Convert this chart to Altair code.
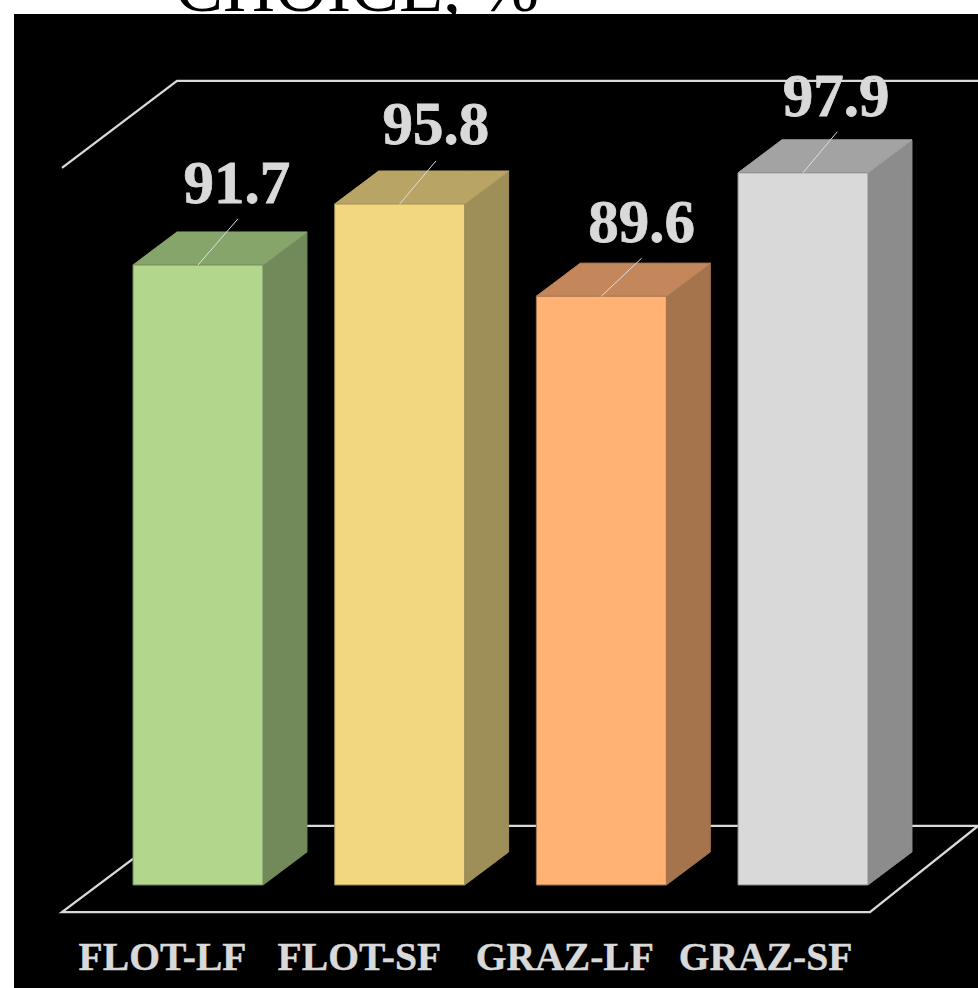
import altair as alt
import pandas as pd

# Survival share per regimen
regimens = ["FLOT-LF", "FLOT-SF", "GRAZ-LF", "GRAZ-SF"]
shares = [91.7, 95.8, 89.6, 97.9]

# Face colours of each box
front_colors = ["#b3d68d", "#f2d680", "#ffb273", "#d9d9d9"]
top_colors = ["#86a56b", "#b8a464", "#c3875b", "#a3a3a3"]
side_colors = ["#728a59", "#9e8e58", "#a5744d", "#8c8c8c"]

# Value label and leader placement relative to the top front edge of each box
label_shift = [0.193, 0.180, 0.200, 0.164]
label_rise = [4.18, 4.04, 3.64, 3.84]
leader_shift = [0.198, 0.180, 0.200, 0.170]
leader_rise = [3.10, 2.90, 2.56, 2.76]

# Horizontal nudge of each regimen name from its box centre, in axis units
name_shift = [-0.176, -0.200, -0.181, -0.186]

# Box and perspective geometry, in axis units
HALF_WIDTH = 0.3223
DEPTH_X = 0.218
DEPTH_Y = 2.22
BASE = 50
X_DOMAIN = [-0.9124, 3.8677]
Y_DOMAIN = [43.07, 108.58]

# Outline of the floor and of the ceiling of the perspective frame
floor_x = [-0.1041, -0.6744, 3.332, 3.8677, -0.1041]
floor_y = [53.97, 48.18, 48.18, 53.97, 53.97]
ceiling_x = [-0.6744, -0.1041, 3.8677]
ceiling_y = [98.23, 104.08, 104.08]

x_scale = alt.Scale(domain=X_DOMAIN, nice=False, zero=False)
y_scale = alt.Scale(domain=Y_DOMAIN, nice=False, zero=False)
X = alt.X("x:Q", scale=x_scale, axis=None)
Y = alt.Y("y:Q", scale=y_scale, axis=None)


def palette_scale(palette):
    return alt.Scale(domain=regimens, range=palette)


front_rows, side_rows, top_rows, leader_rows, label_rows, name_rows = [], [], [], [], [], []
for i, (name, v) in enumerate(zip(regimens, shares)):
    left, right = i - HALF_WIDTH, i + HALF_WIDTH
    front_rows.append({"regimen": name, "x": left, "x2": right, "y": v, "y2": BASE})
    side_rows += [
        {"regimen": name, "x": right, "y": v, "y2": BASE},
        {"regimen": name, "x": right + DEPTH_X, "y": v + DEPTH_Y, "y2": BASE + DEPTH_Y},
    ]
    top_rows += [
        {"regimen": name, "x": left, "y": v, "y2": v},
        {"regimen": name, "x": left + DEPTH_X, "y": v, "y2": v + DEPTH_Y},
        {"regimen": name, "x": right, "y": v, "y2": v + DEPTH_Y},
        {"regimen": name, "x": right + DEPTH_X, "y": v + DEPTH_Y, "y2": v + DEPTH_Y},
    ]
    leader_rows += [
        {"regimen": name, "x": i, "y": v, "step": 0},
        {"regimen": name, "x": i + leader_shift[i], "y": v + leader_rise[i], "step": 1},
    ]
    label_rows.append({"regimen": name, "x": i + label_shift[i], "y": v + label_rise[i], "share": v})
    name_rows.append({"regimen": name, "x": i + name_shift[i]})

frame_rows = [{"part": "floor", "x": a, "y": b, "step": k} for k, (a, b) in enumerate(zip(floor_x, floor_y))]
frame_rows += [{"part": "ceiling", "x": a, "y": b, "step": k} for k, (a, b) in enumerate(zip(ceiling_x, ceiling_y))]

frame = alt.Chart(pd.DataFrame(frame_rows)).mark_line(
    color="#d9d9d9", strokeWidth=2.3, clip=True
).encode(x=X, y=Y, detail="part:N", order="step:Q")

side = alt.Chart(pd.DataFrame(side_rows)).mark_area(strokeWidth=1, opacity=1).encode(
    x=X, y=Y, y2="y2:Q",
    color=alt.Color("regimen:N", scale=palette_scale(side_colors), legend=None),
    stroke=alt.Stroke("regimen:N", scale=palette_scale(side_colors), legend=None),
)
top = alt.Chart(pd.DataFrame(top_rows)).mark_area(strokeWidth=1, opacity=1).encode(
    x=X, y=Y, y2="y2:Q",
    color=alt.Color("regimen:N", scale=palette_scale(top_colors), legend=None),
    stroke=alt.Stroke("regimen:N", scale=palette_scale(top_colors), legend=None),
)
front = alt.Chart(pd.DataFrame(front_rows)).mark_rect(strokeWidth=1).encode(
    x=X, x2="x2:Q", y=Y, y2="y2:Q",
    color=alt.Color("regimen:N", scale=palette_scale(front_colors), legend=None),
    stroke=alt.Stroke("regimen:N", scale=palette_scale(side_colors), legend=None),
)

leaders = alt.Chart(pd.DataFrame(leader_rows)).mark_line(color="#e0e0e0", strokeWidth=1).encode(
    x=X, y=Y, detail="regimen:N", order="step:Q"
)

value_labels = alt.Chart(pd.DataFrame(label_rows)).mark_text(
    font="Liberation Serif", fontWeight="bold", fontSize=61, color="#d9d9d9",
    stroke="#d9d9d9", strokeWidth=0.8, align="center", baseline="alphabetic",
).encode(x=X, y=Y, text=alt.Text("share:Q", format=".1f"))

category_labels = alt.Chart(pd.DataFrame(name_rows)).mark_text(
    font="Liberation Serif", fontWeight="bold", fontSize=39.6, color="#d9d9d9",
    stroke="#d9d9d9", strokeWidth=0.4, align="center", baseline="alphabetic",
).encode(x=X, y=alt.value(956), text="regimen:N")

# Heading sits above the plot area and runs off the top of the page
heading = alt.Chart(pd.DataFrame({"label": ["CHOICE, %"]})).mark_text(
    font="Liberation Serif", fontSize=72, color="black", align="center", baseline="alphabetic", clip=False
).encode(x=alt.value(343), y=alt.value(-3), text="label:N")

chart = (
    alt.layer(frame, side, top, front, leaders, value_labels, category_labels, heading)
    .resolve_scale(color="independent", stroke="independent")
    .properties(
        width=964,
        height=974,
        background="white",
        padding={"left": 14, "top": 14, "right": 0, "bottom": 0},
        autosize=alt.AutoSizeParams(type="none"),
    )
    .configure_view(fill="black", strokeWidth=0)
)

chart.save("out.html", embed_options={"renderer": "svg", "actions": False})
